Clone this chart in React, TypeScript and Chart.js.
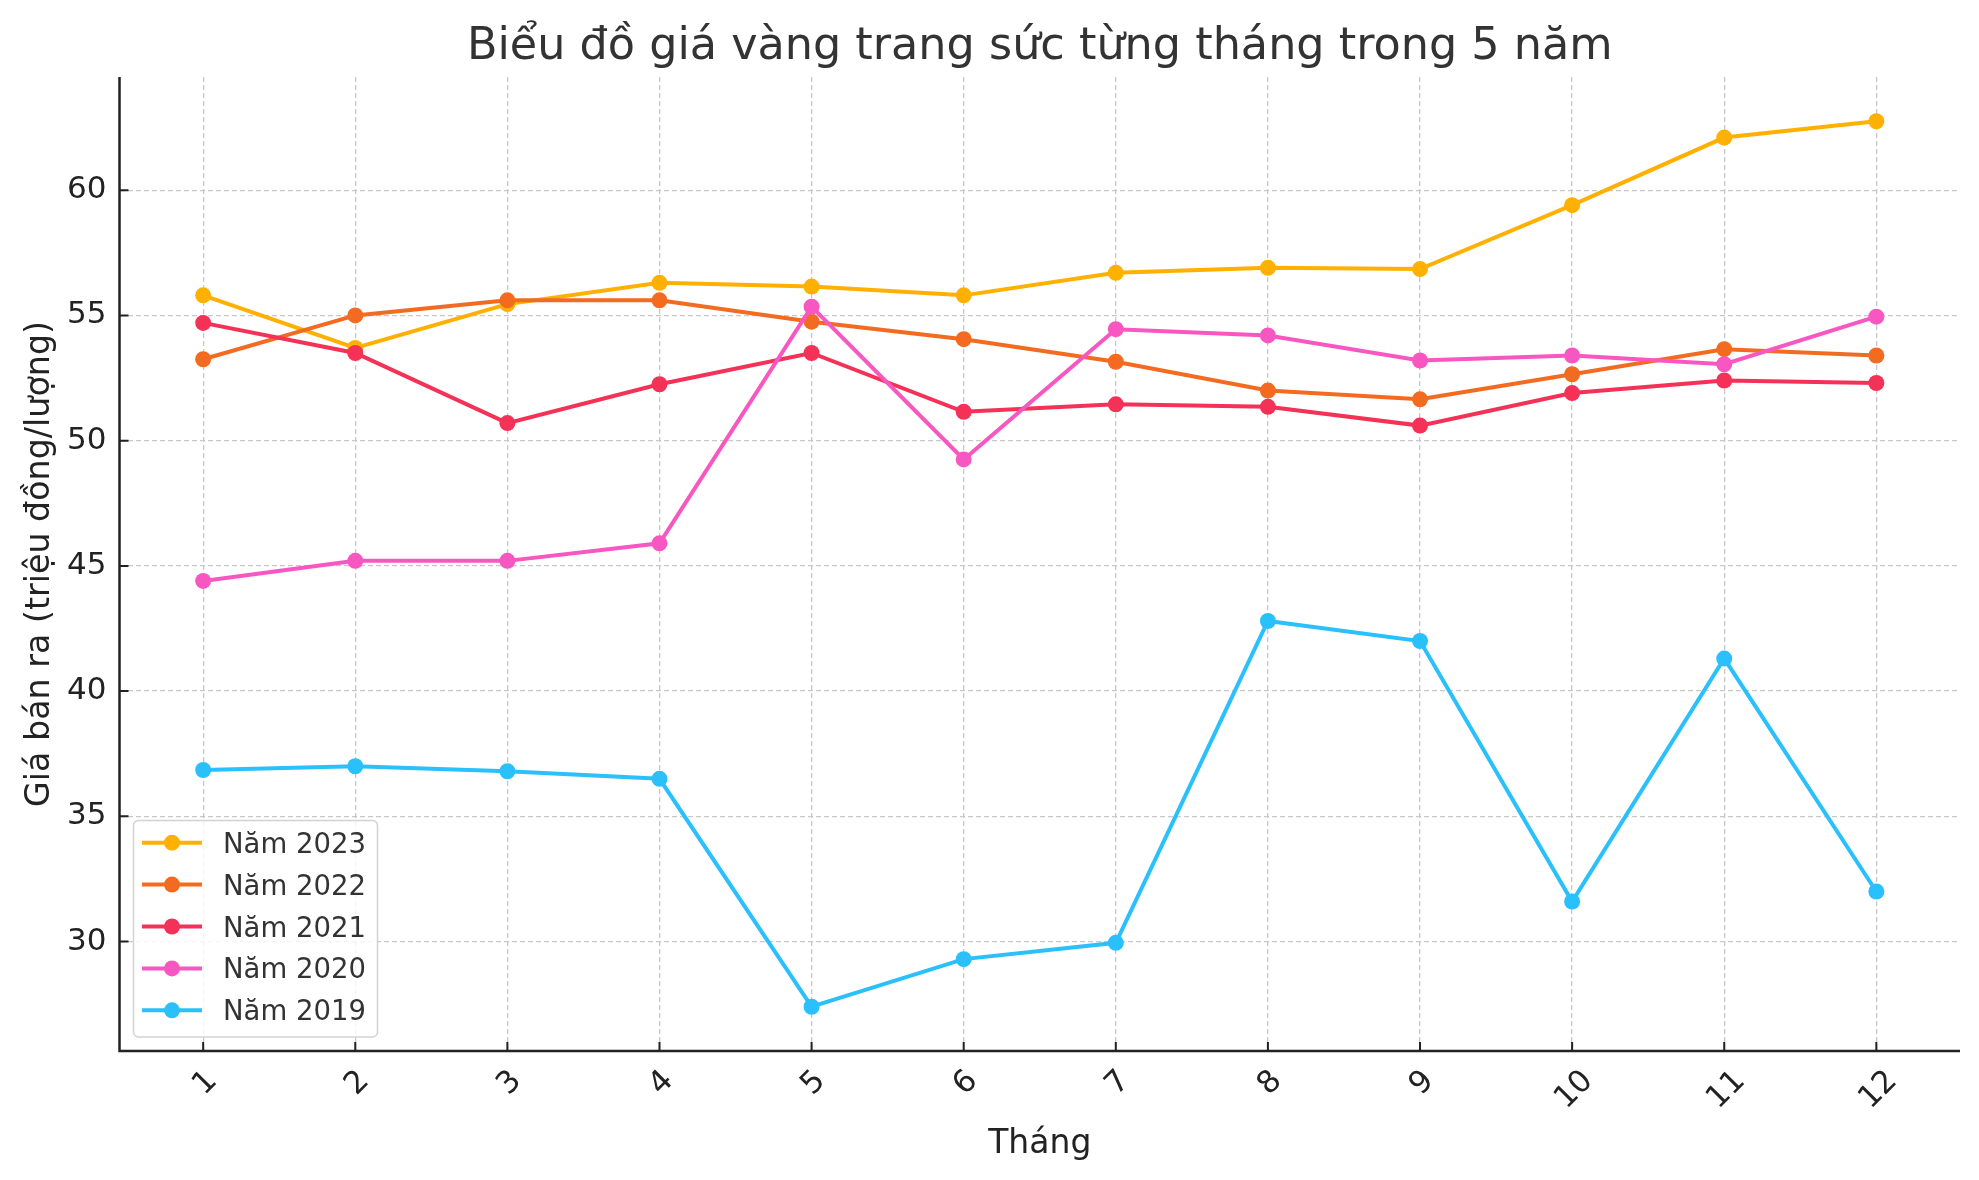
import React, { useEffect, useRef } from 'react';
import { Chart, registerables } from 'chart.js';

Chart.register(...registerables);

// ---- data ----
const months = [1, 2, 3, 4, 5, 6, 7, 8, 9, 10, 11, 12];
const monthLabels = ['1', '2', '3', '4', '5', '6', '7', '8', '9', '10', '11', '12'];

const nam2023 = [55.8, 53.7, 55.45, 56.3, 56.15, 55.8, 56.7, 56.9, 56.85, 59.4, 62.1, 62.75];
const nam2022 = [53.25, 55.0, 55.6, 55.6, 54.75, 54.05, 53.15, 52.0, 51.65, 52.65, 53.65, 53.4];
const nam2021 = [54.7, 53.5, 50.7, 52.25, 53.5, 51.15, 51.45, 51.35, 50.6, 51.9, 52.4, 52.3];
const nam2020 = [44.4, 45.2, 45.2, 45.9, 55.35, 49.25, 54.45, 54.2, 53.2, 53.4, 53.05, 54.95];
const nam2019 = [36.85, 37.0, 36.8, 36.5, 27.4, 29.3, 29.95, 42.8, 42.0, 31.6, 41.3, 32.0];

const seriesLabels = ['Năm 2023', 'Năm 2022', 'Năm 2021', 'Năm 2020', 'Năm 2019'];
const seriesValues = [nam2023, nam2022, nam2021, nam2020, nam2019];
const seriesColors = ['#FFB000', '#F26B21', '#F43156', '#F857C1', '#2AC0FB'];

const yTickValues = [30, 35, 40, 45, 50, 55, 60];

const chartTitle = 'Biểu đồ giá vàng trang sức từng tháng trong 5 năm';
const xAxisTitle = 'Tháng';
const yAxisTitle = 'Giá bán ra (triệu đồng/lượng)';

// ---- layout constants ----
const W = 1979;
const H = 1180;
const FONT = "'DejaVu Sans', sans-serif";

const decorPlugin = {
  id: 'decor',
  afterDraw(chart: any) {
    const ctx = chart.ctx as CanvasRenderingContext2D;
    const area = chart.chartArea;
    const xs = chart.scales.x;
    const ys = chart.scales.y;
    ctx.save();

    // axis spines
    ctx.strokeStyle = '#222222';
    ctx.lineWidth = 2.5;
    ctx.beginPath();
    ctx.moveTo(area.left, area.top);
    ctx.lineTo(area.left, area.bottom);
    ctx.lineTo(area.right, area.bottom);
    ctx.stroke();

    // inward ticks
    ctx.lineWidth = 2;
    ctx.beginPath();
    months.forEach((m) => {
      const x = xs.getPixelForValue(m);
      ctx.moveTo(x, area.bottom);
      ctx.lineTo(x, area.bottom - 9);
    });
    yTickValues.forEach((v) => {
      const y = ys.getPixelForValue(v);
      ctx.moveTo(area.left, y);
      ctx.lineTo(area.left + 9, y);
    });
    ctx.stroke();

    // x tick labels rotated 45°
    const tfs = 31;
    ctx.fillStyle = '#222222';
    ctx.font = `${tfs}px ${FONT}`;
    ctx.textAlign = 'center';
    ctx.textBaseline = 'alphabetic';
    const capH = 0.729 * tfs;
    months.forEach((m, i) => {
      const label = monthLabels[i];
      const w = ctx.measureText(label).width;
      const bboxH = (w + capH) * Math.SQRT1_2;
      const cx = xs.getPixelForValue(m);
      const cy = area.bottom + 15 + bboxH / 2;
      ctx.save();
      ctx.translate(cx, cy);
      ctx.rotate(-Math.PI / 4);
      ctx.fillText(label, 0, capH / 2);
      ctx.restore();
    });

    // title
    ctx.fillStyle = '#333333';
    ctx.font = `44.5px ${FONT}`;
    ctx.textAlign = 'center';
    ctx.fillText(chartTitle, (area.left + area.right) / 2, 59);

    // axis titles
    ctx.fillStyle = '#222222';
    ctx.font = `33px ${FONT}`;
    ctx.fillText(xAxisTitle, (area.left + area.right) / 2, 1153);
    ctx.save();
    ctx.font = `33.3px ${FONT}`;
    ctx.translate(49, (area.top + area.bottom) / 2);
    ctx.rotate(-Math.PI / 2);
    ctx.fillText(yAxisTitle, 0, 0);
    ctx.restore();

    // legend
    const bx = 133.5, by = 820.5, bw = 244, bh = 216.5, r = 5;
    ctx.beginPath();
    ctx.moveTo(bx + r, by);
    ctx.lineTo(bx + bw - r, by);
    ctx.arcTo(bx + bw, by, bx + bw, by + r, r);
    ctx.lineTo(bx + bw, by + bh - r);
    ctx.arcTo(bx + bw, by + bh, bx + bw - r, by + bh, r);
    ctx.lineTo(bx + r, by + bh);
    ctx.arcTo(bx, by + bh, bx, by + bh - r, r);
    ctx.lineTo(bx, by + r);
    ctx.arcTo(bx, by, bx + r, by, r);
    ctx.closePath();
    ctx.fillStyle = 'rgba(255,255,255,0.8)';
    ctx.fill();
    ctx.strokeStyle = '#d3d3d3';
    ctx.lineWidth = 1.5;
    ctx.stroke();

    const lfs = 27.5;
    ctx.font = `${lfs}px ${FONT}`;
    ctx.textAlign = 'left';
    chart.data.datasets.forEach((ds: any, i: number) => {
      const cy = 842.7 + i * 41.9;
      ctx.strokeStyle = ds.borderColor;
      ctx.lineWidth = 4;
      ctx.beginPath();
      ctx.moveTo(142, cy);
      ctx.lineTo(202, cy);
      ctx.stroke();
      ctx.fillStyle = ds.borderColor;
      ctx.beginPath();
      ctx.arc(172, cy, 8, 0, Math.PI * 2);
      ctx.fill();
      ctx.fillStyle = '#333333';
      ctx.fillText(ds.label, 223, cy + 0.729 * lfs / 2);
    });

    ctx.restore();
  },
};

export default function App() {
  const canvasRef = useRef<HTMLCanvasElement | null>(null);

  useEffect(() => {
    const canvas = canvasRef.current;
    if (!canvas) return;

    const all = seriesValues.flat();
    const dmin = Math.min(...all);
    const dmax = Math.max(...all);
    const margin = (dmax - dmin) * 0.05;
    const xMargin = (months[months.length - 1] - months[0]) * 0.05;

    const datasets = seriesLabels.map((label, i) => ({
      label,
      data: months.map((m, j) => ({ x: m, y: seriesValues[i][j] })),
      borderColor: seriesColors[i],
      backgroundColor: seriesColors[i],
      pointBackgroundColor: seriesColors[i],
      pointBorderWidth: 0,
      pointRadius: 8,
      borderWidth: 4,
      tension: 0,
      order: seriesLabels.length - 1 - i,
    }));

    const chart = new Chart(canvas, {
      type: 'line',
      data: { datasets },
      options: {
        animation: false,
        responsive: false,
        devicePixelRatio: 1,
        layout: { padding: { top: 77, right: 19, bottom: 0, left: 0 } },
        plugins: {
          legend: { display: false },
          title: { display: false },
          tooltip: { enabled: false },
        },
        scales: {
          x: {
            type: 'linear',
            min: months[0] - xMargin,
            max: months[months.length - 1] + xMargin,
            afterBuildTicks: (scale: any) => {
              scale.ticks = months.map((v) => ({ value: v }));
            },
            afterFit: (scale: any) => {
              scale.height = H - 1051;
            },
            ticks: { display: false },
            grid: { color: '#c8c8c8', lineWidth: 1.3, drawTicks: false },
            border: { display: false, dash: [5, 3] },
          },
          y: {
            type: 'linear',
            min: dmin - margin,
            max: dmax + margin,
            afterBuildTicks: (scale: any) => {
              scale.ticks = yTickValues.map((v) => ({ value: v }));
            },
            afterFit: (scale: any) => {
              scale.width = 119.5;
            },
            ticks: {
              color: '#222222',
              font: { family: FONT, size: 31 },
              padding: 13,
              callback: (v: any) => String(v),
            },
            grid: { color: '#c8c8c8', lineWidth: 1.3, drawTicks: false },
            border: { display: false, dash: [5, 3] },
          },
        },
      },
      plugins: [decorPlugin],
    } as any);

    return () => chart.destroy();
  }, []);

  return (
    <div style={{ position: 'absolute', left: 0, top: 0, width: W, height: H, background: '#ffffff' }}>
      <canvas ref={canvasRef} width={W} height={H} style={{ display: 'block', width: W, height: H }} />
    </div>
  );
}
